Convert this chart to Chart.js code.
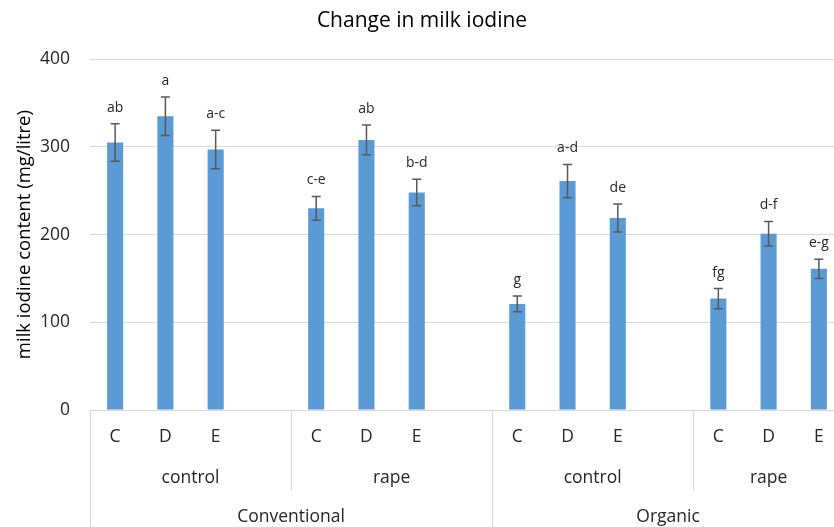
<!DOCTYPE html>
<html>
<head>
<meta charset="utf-8">
<script src="https://cdn.jsdelivr.net/npm/chart.js@4"></script>
<style>
  html, body { margin: 0; padding: 0; overflow: hidden; background: #fff; }
  #wrap { width: 860px; height: 527px; }
</style>
</head>
<body>
<div id="wrap"><canvas id="iodine-chart" width="860" height="527"></canvas></div>
<script>
// ----------- DATA -----------
// blank slot ('') separates the treatment groups, like the Excel original
const cowLabels = ["C", "D", "E", "", "C", "D", "E", "", "C", "D", "E", "", "C", "D", "E"];
const iodineValues = [305, 335, 297, null, 230, 308, 248, null, 121, 261, 219, null, 127, 201, 161];
const iodineErrors = [21.5, 22, 22, null, 13.5, 17, 15, null, 9, 19, 16, null, 11.5, 14, 11];
const sigLetters = ["ab", "a", "a-c", "", "c-e", "ab", "b-d", "", "g", "a-d", "de", "", "fg", "d-f", "e-g"];

// second and third level of the category axis (label + number of slots)
const treatments = ["control", "rape", "control", "rape"];
const treatmentSpans = [4, 4, 4, 3];
const systems = ["Conventional", "Organic"];
const systemSpans = [8, 7];

const yTicks = [0, 100, 200, 300, 400];

const fontFamily = "'Open Sans', 'Liberation Sans', sans-serif";
const lineGray = "#d9d9d9";

// Error bars + significance letters drawn with the y scale
const errorBarPlugin = {
  id: "errorBars",
  afterDatasetsDraw(chart) {
    const ctx = chart.ctx;
    const x = chart.scales.x;
    const y = chart.scales.y;
    ctx.save();
    for (let i = 0; i < iodineValues.length; i++) {
      if (iodineValues[i] == null) continue;
      const px = x.getPixelForValue(i);
      const top = y.getPixelForValue(iodineValues[i] + iodineErrors[i]);
      const bottom = y.getPixelForValue(iodineValues[i] - iodineErrors[i]);
      ctx.strokeStyle = "#595959";
      ctx.lineWidth = 1.5;
      ctx.beginPath();
      ctx.moveTo(px, top);
      ctx.lineTo(px, bottom);
      ctx.moveTo(px - 4.5, top);
      ctx.lineTo(px + 4.5, top);
      ctx.moveTo(px - 4.5, bottom);
      ctx.lineTo(px + 4.5, bottom);
      ctx.stroke();

      ctx.fillStyle = "#262626";
      ctx.font = "14px " + fontFamily;
      ctx.textAlign = "center";
      ctx.textBaseline = "middle";
      ctx.fillText(sigLetters[i], px, top - 16);
    }
    ctx.restore();
  },
};

// Multi-level category labels and divider lines under the x axis
const groupAxisPlugin = {
  id: "groupAxis",
  afterDraw(chart) {
    const ctx = chart.ctx;
    const x = chart.scales.x;
    const area = chart.chartArea;
    const slot = x.getPixelForValue(1) - x.getPixelForValue(0);
    const edge = (i) => x.getPixelForValue(i) - slot / 2;
    ctx.save();
    ctx.strokeStyle = lineGray;
    ctx.lineWidth = 1;
    ctx.fillStyle = "#262626";
    ctx.font = "17.5px " + fontFamily;
    ctx.textAlign = "center";
    ctx.textBaseline = "middle";

    // left border of the axis table
    ctx.beginPath();
    ctx.moveTo(Math.round(area.left) + 0.5, area.bottom);
    ctx.lineTo(Math.round(area.left) + 0.5, chart.height);
    ctx.stroke();

    // treatment level
    let start = 0;
    for (let g = 0; g < treatments.length; g++) {
      const end = start + treatmentSpans[g];
      ctx.fillText(treatments[g], (edge(start) + edge(end)) / 2, area.bottom + 68);
      if (g > 0) {
        const lx = Math.round(edge(start)) + 0.5;
        ctx.beginPath();
        ctx.moveTo(lx, area.bottom);
        ctx.lineTo(lx, area.bottom + 80);
        ctx.stroke();
      }
      start = end;
    }

    // farming system level
    start = 0;
    for (let g = 0; g < systems.length; g++) {
      const end = start + systemSpans[g];
      ctx.fillText(systems[g], (edge(start) + edge(end)) / 2, area.bottom + 107);
      if (g > 0) {
        const lx = Math.round(edge(start)) + 0.5;
        ctx.beginPath();
        ctx.moveTo(lx, area.bottom);
        ctx.lineTo(lx, chart.height);
        ctx.stroke();
      }
      start = end;
    }
    ctx.restore();
  },
};

const chartEl = document.getElementById("iodine-chart");

const iodineChart = new Chart(chartEl, {
  type: "bar",
  data: {
    labels: cowLabels,
    datasets: [
      {
        label: "milk iodine",
        data: iodineValues,
        backgroundColor: "#5B9BD5",
        borderWidth: 0,
        categoryPercentage: 1,
        barPercentage: 0.32,
      },
    ],
  },
  options: {
    responsive: false,
    animation: false,
    devicePixelRatio: 1,
    layout: {
      padding: { left: 0, right: 16, top: 0, bottom: 0 },
    },
    plugins: {
      legend: { display: false },
      tooltip: { enabled: false },
      title: {
        display: true,
        text: "Change in milk iodine",
        color: "#000",
        font: { family: fontFamily, size: 21, weight: "normal", lineHeight: 1.2 },
        padding: { top: 8, bottom: 26 },
      },
    },
    scales: {
      x: {
        grid: { display: false, drawTicks: false },
        border: { display: true, color: lineGray, width: 1 },
        ticks: {
          color: "#262626",
          font: { family: fontFamily, size: 17.5 },
          padding: 17,
          autoSkip: false,
          maxRotation: 0,
        },
        afterFit(scale) {
          scale.height = 117;
        },
      },
      y: {
        min: 0,
        max: 400,
        afterBuildTicks(scale) {
          scale.ticks = yTicks.map((v) => ({ value: v }));
        },
        grid: { color: lineGray, lineWidth: 1, drawTicks: false },
        border: { display: false },
        ticks: {
          color: "#262626",
          font: { family: fontFamily, size: 17.5 },
          padding: 20,
        },
        title: {
          display: true,
          text: "milk iodine content (mg/litre)",
          color: "#000",
          font: { family: fontFamily, size: 18.5 },
          padding: { top: 14, bottom: 0 },
        },
        afterFit(scale) {
          scale.width = 90;
        },
      },
    },
  },
  plugins: [errorBarPlugin, groupAxisPlugin],
});
</script>
</body>
</html>
